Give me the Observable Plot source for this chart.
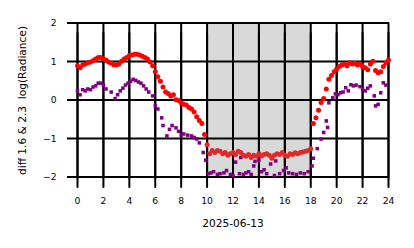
<!DOCTYPE html>
<html><head><meta charset="utf-8">
<script src="https://cdn.jsdelivr.net/npm/d3@7"></script>
<script src="https://cdn.jsdelivr.net/npm/@observablehq/plot@0.6"></script>
<style>body{margin:0;background:#fff;font-family:"DejaVu Sans",sans-serif}</style>
</head><body><div id="chart"></div>
<script>
const xTicks = [0,2,4,6,8,10,12,14,16,18,20,22,24];
const yTicks = [-2,-1,0,1,2];
const shade = [{start: 10, end: 18}];
const xLabel = ["2025-06-13"];
const yLabel = ["diff 1.6 & 2.3  log(Radiance)"];

const redHours = [0.0,0.2,0.4,0.6,0.8,1.0,1.2,1.4,1.6,1.8,2.0,2.2,2.4,2.6,2.8,3.0,3.2,3.4,3.6,3.8,4.0,4.2,4.4,4.6,4.8,5.0,5.2,5.4,5.6,5.8,6.0,6.2,6.4,6.6,6.8,7.0,7.2,7.4,7.6,7.8,8.0,8.2,8.4,8.6,8.8,9.0,9.2,9.4,9.6,9.8,10.0,10.2,10.4,10.6,10.8,11.0,11.2,11.4,11.6,11.8,12.0,12.2,12.4,12.6,12.8,13.0,13.2,13.4,13.6,13.8,14.0,14.2,14.4,14.6,14.8,15.0,15.2,15.4,15.6,15.8,16.0,16.2,16.4,16.6,16.8,17.0,17.2,17.4,17.6,17.8,18.0,18.2,18.4,18.6,18.8,19.0,19.2,19.4,19.6,19.8,20.0,20.2,20.4,20.6,20.8,21.0,21.2,21.4,21.6,21.8,22.0,22.2,22.4,22.6,22.8,23.0,23.2,23.4,23.6,23.8,24.0];
const redValues = [0.90,0.85,0.92,0.95,0.98,1.00,1.03,1.08,1.12,1.12,1.08,1.05,1.00,0.97,0.93,0.92,0.95,1.02,1.08,1.12,1.17,1.18,1.20,1.20,1.18,1.15,1.12,1.08,1.00,0.90,0.75,0.62,0.50,0.35,0.22,0.18,0.12,0.15,0.02,0.00,-0.06,-0.10,-0.12,-0.18,-0.22,-0.30,-0.42,-0.52,-0.60,-0.88,-1.15,-1.38,-1.30,-1.35,-1.30,-1.32,-1.38,-1.35,-1.42,-1.38,-1.35,-1.40,-1.32,-1.35,-1.42,-1.45,-1.40,-1.48,-1.42,-1.45,-1.38,-1.44,-1.40,-1.38,-1.42,-1.50,-1.42,-1.38,-1.40,-1.35,-1.42,-1.45,-1.38,-1.40,-1.36,-1.38,-1.35,-1.34,-1.32,-1.30,-1.25,-0.60,-0.45,-0.25,-0.05,0.05,0.30,0.55,0.65,0.75,0.82,0.88,0.92,0.95,0.90,0.98,0.95,0.97,0.92,0.95,0.88,0.85,0.80,0.95,1.02,0.78,0.72,0.75,0.88,0.98,1.05];

const purpleHours = [0.0,0.2,0.4,0.6,0.8,1.0,1.2,1.4,1.6,1.8,2.0,2.2,2.6,2.9,3.1,3.3,3.5,3.7,3.9,4.1,4.3,4.5,4.7,4.9,5.1,5.3,5.5,5.8,6.0,6.2,6.5,6.6,6.9,7.1,7.3,7.6,7.8,8.0,8.2,8.5,8.8,9.0,9.2,9.4,9.7,9.9,10.1,10.3,10.5,10.8,11.0,11.3,11.5,11.8,12.0,12.2,12.5,12.6,12.8,13.0,13.2,13.4,13.6,13.7,14.0,14.2,14.4,14.6,14.9,15.2,15.3,15.6,15.9,16.1,16.3,16.6,16.9,17.2,17.5,17.8,18.1,18.2,18.5,18.8,19.0,19.2,19.3,19.4,19.7,19.9,20.1,20.3,20.5,20.7,20.9,21.1,21.3,21.5,21.8,22.0,22.2,22.4,22.6,22.9,23.0,23.2,23.4,23.6,23.8];
const purpleValues = [0.25,0.15,0.28,0.25,0.30,0.28,0.35,0.38,0.45,0.45,0.40,0.30,0.22,0.05,0.15,0.25,0.32,0.40,0.45,0.50,0.55,0.52,0.48,0.45,0.38,0.30,0.22,0.12,-0.14,-0.22,-0.45,-0.65,-0.92,-0.75,-0.65,-0.71,-0.80,-0.90,-0.87,-0.90,-0.92,-0.96,-1.00,-1.10,-1.35,-1.55,-1.90,-1.88,-1.85,-1.92,-1.90,-1.88,-1.82,-1.92,-1.95,-1.60,-1.90,-1.48,-1.92,-1.88,-1.85,-1.92,-1.70,-1.58,-1.55,-1.85,-1.80,-1.90,-1.65,-1.95,-1.57,-1.90,-1.82,-1.75,-1.88,-1.90,-1.92,-1.88,-1.90,-1.85,-1.70,-1.50,-1.25,-1.00,-0.83,-0.53,-0.70,-0.06,0.07,0.17,0.15,0.20,0.22,0.33,0.25,0.41,0.38,0.40,0.36,0.30,0.25,0.32,0.38,0.12,-0.14,-0.10,0.20,0.46,0.40];

const red = redHours.map((h, i) => ({h, v: redValues[i]}));
const purple = purpleHours.map((h, i) => ({h, v: purpleValues[i]}));
const fmt = d => d < 0 ? "\u2212" + Math.abs(d) : String(d);
const yMin = d3.min(yTicks), yMax = d3.max(yTicks);
const vGrid = xTicks.flatMap(t => [{t, v: yMin}, {t, v: yMax}]);

const chart = Plot.plot({
  width: 414,
  height: 248,
  marginLeft: 77,
  marginRight: 26,
  marginTop: 23,
  marginBottom: 71,
  style: {fontFamily: "DejaVu Sans", fontSize: "9.2px", color: "black", background: "white"},
  x: {domain: [0, 24]},
  y: {domain: [-2, 2]},
  marks: [
    Plot.rect(shade, {x1: "start", x2: "end", y1: -2, y2: 2, fill: "#d9d9d9"}),
    Plot.line(vGrid, {x: "t", y: "v", z: "t", stroke: "black", strokeWidth: 2, strokeLinecap: "square"}),
    Plot.line(vGrid, {x: "t", y: "v", z: "t", stroke: "black", strokeWidth: 2, dy: 9.5}),
    Plot.rect(yTicks, {y1: d => d, y2: d => d, x1: 0, x2: 24, insetTop: -1, insetBottom: -1, insetLeft: -10, insetRight: -1, fill: "black"}),
    Plot.axisX({ticks: xTicks, tickSize: 0, tickPadding: 19.5, label: null, tickFormat: fmt}),
    Plot.axisY({ticks: yTicks, tickSize: 0, tickPadding: 21, label: null, tickFormat: fmt}),
    Plot.dot(purple, {x: "h", y: "v", symbol: "square", r: 2, fill: "#800080", stroke: "none"}),
    Plot.dot(red, {x: "h", y: "v", r: 2.5, fill: d => (d.h >= 10 && d.h <= 18) ? "#dd2b2b" : "#ff0000", stroke: "none"}),
    Plot.text(xLabel, {text: d => d, frameAnchor: "bottom", dy: 46.5, lineAnchor: "middle", fontSize: 10.6, fill: "black"}),
    Plot.text(yLabel, {text: d => d, frameAnchor: "left", dx: -55, rotate: -90, lineAnchor: "middle", textAnchor: "middle", fontSize: 10.6, fill: "black"})
  ]
});
document.getElementById("chart").appendChild(chart);
</script></body></html>
